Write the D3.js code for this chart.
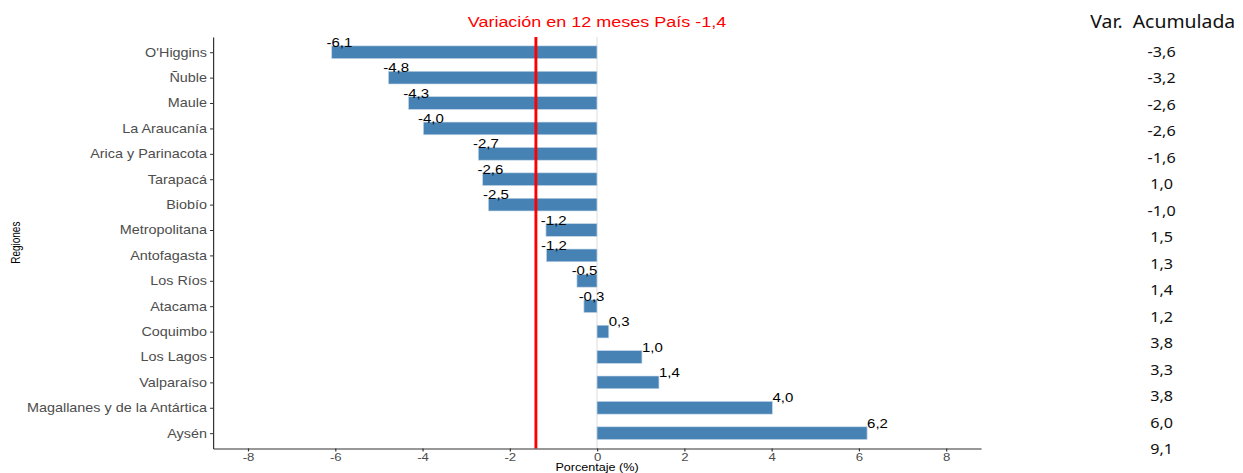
<!DOCTYPE html>
<html><head><meta charset="utf-8">
<script src="https://cdn.jsdelivr.net/npm/d3@7"></script>
<style>body{margin:0;background:#fff;} svg{display:block}</style>
</head><body>
<svg id="c"></svg>
<script>
// ---- data ----
const regions = ["O'Higgins","Ñuble","Maule","La Araucanía","Arica y Parinacota","Tarapacá","Biobío","Metropolitana","Antofagasta","Los Ríos","Atacama","Coquimbo","Los Lagos","Valparaíso","Magallanes y de la Antártica","Aysén"];
const var12 = [-6.08,-4.78,-4.32,-3.98,-2.72,-2.62,-2.49,-1.17,-1.16,-0.46,-0.30,0.27,1.03,1.42,4.02,6.19];
const varAcum = [-3.6,-3.2,-2.6,-2.6,-1.6,1.0,-1.0,1.5,1.3,1.4,1.2,3.8,3.3,3.8,6.0,9.1];
const xTicks = [-8,-6,-4,-2,0,2,4,6,8];
const nationalVar = -1.4;
const titleText = "Variación en 12 meses País -1,4";
const xTitle = "Porcentaje (%)";
const yTitle = "Regiones";
const colHeader = "Var.\u00A0 Acumulada";

// ---- layout (drawn in a horizontally stretched viewBox) ----
const SX = 1.2, W = 1243, H = 473, VW = W / SX;
const svg = d3.select("#c").attr("width", W).attr("height", H)
  .attr("viewBox", `0 0 ${VW} ${H}`).attr("preserveAspectRatio", "none");
const fmt = v => v.toFixed(1).replace(".", ",");
const font = "'Liberation Sans', Arial, sans-serif";

const pLeft = 177.5, pRight = 817.5, pTop = 37, pBottom = 448.4;
const x = d3.scaleLinear().domain([-8.8, 8.8]).range([pLeft, pRight]);
const y = d3.scalePoint().domain(regions).range([pTop, pBottom]).padding(0.6);
const bh = y.step() * 0.5;

// zero line
svg.append("line").attr("x1", x(0)).attr("x2", x(0)).attr("y1", pTop).attr("y2", pBottom)
  .attr("stroke", "#e3e3e3").attr("stroke-width", 1);

// bars
svg.append("g").selectAll("rect").data(regions).join("rect")
  .attr("x", (d, i) => Math.min(x(0), x(var12[i])))
  .attr("width", (d, i) => Math.abs(x(var12[i]) - x(0)))
  .attr("y", d => y(d) - bh / 2)
  .attr("height", bh)
  .attr("fill", "#4682b4")
  .attr("stroke", "#c4d6e8").attr("stroke-width", 0.6);

// value labels
svg.append("g").selectAll("text").data(regions).join("text")
  .attr("x", (d, i) => x(var12[i]) + (var12[i] < 0 ? -4.4 : 0))
  .attr("y", d => y(d) - bh / 2 + 1)
  .attr("font-family", font).attr("font-size", 12.5).attr("fill", "#000")
  .text((d, i) => fmt(var12[i]));

// national line
svg.append("line").attr("x1", x(nationalVar)).attr("x2", x(nationalVar))
  .attr("y1", pTop).attr("y2", pBottom)
  .attr("stroke", "#ff0000").attr("stroke-width", 2.4);

// axes
const ax = svg.append("g").attr("transform", `translate(${pLeft},0)`)
  .call(d3.axisLeft(y).tickSize(2.5).tickSizeOuter(0).tickPadding(2.5));
ax.selectAll("text").attr("font-family", font).attr("font-size", 12).attr("fill", "#4d4d4d");
ax.selectAll("line").attr("stroke", "#333");
ax.select(".domain").attr("stroke", "#333");

const bx = svg.append("g").attr("transform", `translate(0,${pBottom})`)
  .call(d3.axisBottom(x).tickValues(xTicks).tickSize(3).tickSizeOuter(0).tickPadding(1.5)
    .tickFormat(d => String(d)));
bx.selectAll("text").attr("font-family", font).attr("font-size", 11).attr("fill", "#4d4d4d");
bx.selectAll("line").attr("stroke", "#333");
bx.select(".domain").attr("stroke", "#333");

// titles
svg.append("text").attr("x", (pLeft + pRight) / 2).attr("y", 27).attr("text-anchor", "middle")
  .attr("font-family", font).attr("font-size", 15).attr("fill", "#ff0000").text(titleText);
svg.append("text").attr("x", (pLeft + pRight) / 2).attr("y", 471.5).attr("text-anchor", "middle")
  .attr("font-family", font).attr("font-size", 10.5).attr("fill", "#000").text(xTitle);
svg.append("text").attr("transform", `translate(16.5,${(pTop + pBottom) / 2}) rotate(-90)`)
  .attr("text-anchor", "middle")
  .attr("font-family", font).attr("font-size", 10).attr("fill", "#000").text(yTitle);

// right column table
const colX = 968;
svg.append("text").attr("transform", `translate(${colX + 1},28) scale(0.875,1)`)
  .attr("text-anchor", "middle")
  .attr("font-family", "'Noto Sans', sans-serif").attr("font-size", 18.5).attr("fill", "#111")
  .text(colHeader);
svg.append("g").selectAll("text").data(varAcum).join("text")
  .attr("transform", (d, i) => `translate(${colX},${56.5 + 26.5 * i}) scale(0.95,1)`)
  .attr("text-anchor", "middle")
  .attr("font-family", "'Noto Sans', sans-serif").attr("font-size", 14.2).attr("fill", "#111")
  .text(d => fmt(d));
</script>
</body></html>
